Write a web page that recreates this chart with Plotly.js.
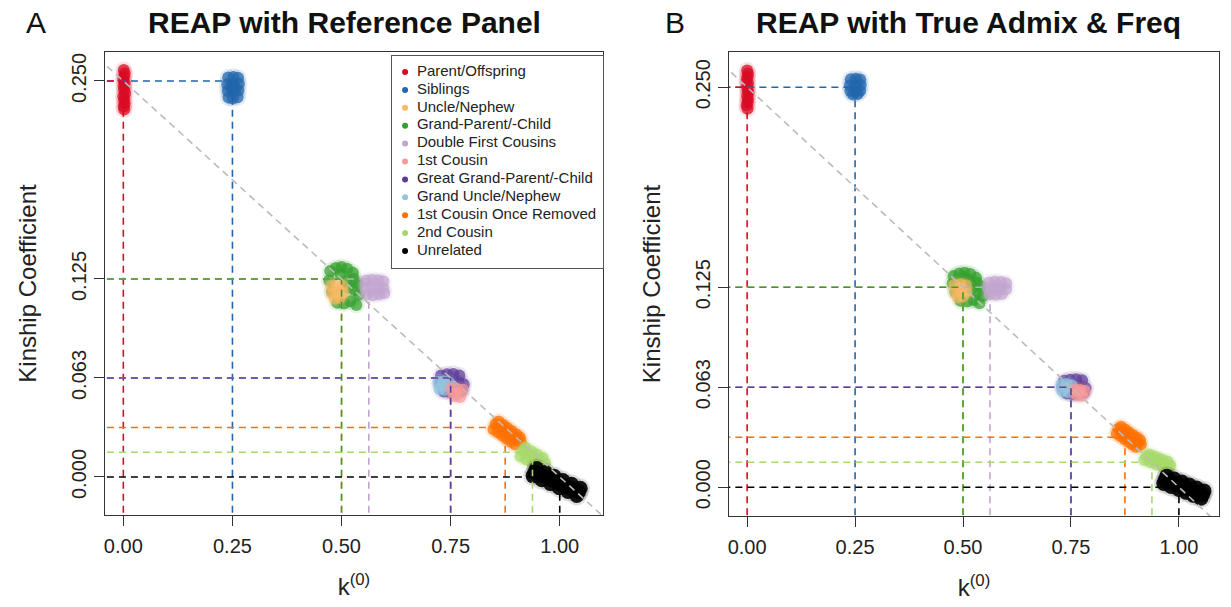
<!DOCTYPE html>
<html><head><meta charset="utf-8">
<script src="https://cdn.plot.ly/plotly-3.0.1.min.js"></script>
<style>html,body{margin:0;padding:0;background:#fff;} #chart{width:1231px;height:607px;}</style>
</head><body><div id="chart"></div>
<script>
// ---- relationship categories ----
const relNames = ["Parent/Offspring","Siblings","Uncle/Nephew","Grand-Parent/-Child","Double First Cousins","1st Cousin","Great Grand-Parent/-Child","Grand Uncle/Nephew","1st Cousin Once Removed","2nd Cousin","Unrelated"];
const relColors = ["#DA0A22","#2166AC","#FDB863","#33A02C","#C2A5CF","#F79A9A","#5E3C99","#92C5DE","#FF7000","#A6D96A","#000000"];
// expected k(0) and kinship per relationship
const expK0  = [0, 0.25, 0.5, 0.5, 0.5625, 0.75, 0.75, 0.75, 0.875, 0.9375, 1];
const expPhi = [0.25, 0.25, 0.125, 0.125, 0.125, 0.0625, 0.0625, 0.0625, 0.03125, 0.015625, 0];

// tick labels
const xTickVals = [0, 0.25, 0.5, 0.75, 1];
const xTickText = ["0.00","0.25","0.50","0.75","1.00"];
const yTickVals = [0, 0.0625, 0.125, 0.25];
const yTickText = ["0.000","0.063","0.125","0.250"];

// ---- Panel A: REAP with Reference Panel (estimated pairs) ----
const aPO_k = [0.001,0.003,0.002,0.000,0.003,0.001,0.002,0.004,0.000,0.002,0.003,0.001,0.002];
const aPO_p = [0.2570,0.2549,0.2528,0.2507,0.2486,0.2465,0.2444,0.2423,0.2402,0.2381,0.2360,0.2339,0.2320];
const aSib_k = [0.240,0.252,0.263,0.238,0.251,0.265,0.239,0.252,0.264,0.241,0.251,0.262,0.246,0.257];
const aSib_p = [0.2522,0.2526,0.2520,0.2480,0.2478,0.2482,0.2437,0.2434,0.2440,0.2395,0.2390,0.2398,0.2460,0.2455];
const aUN_k = [0.476,0.489,0.502,0.478,0.491,0.504,0.484,0.497];
const aUN_p = [0.1205,0.1212,0.1208,0.1160,0.1165,0.1162,0.1125,0.1130];
const aGP_k = [0.474,0.487,0.500,0.513,0.526,0.472,0.528,0.538,0.478,0.530,0.540,0.490,0.506,0.520,0.534,0.498,0.512,0.515];
const aGP_p = [0.1300,0.1320,0.1325,0.1315,0.1290,0.1240,0.1250,0.1220,0.1170,0.1180,0.1150,0.1100,0.1095,0.1110,0.1085,0.1280,0.1240,0.1195];
const aDFC_k = [0.556,0.570,0.584,0.596,0.554,0.568,0.582,0.596,0.558,0.572,0.586,0.598];
const aDFC_p = [0.1240,0.1245,0.1242,0.1235,0.1195,0.1195,0.1192,0.1190,0.1150,0.1148,0.1152,0.1160];
const a1C_k = [0.752,0.766,0.778,0.758,0.772,0.762];
const a1C_p = [0.0560,0.0555,0.0550,0.0510,0.0505,0.0530];
const aGG_k = [0.728,0.742,0.756,0.770,0.726,0.740,0.754,0.768,0.780,0.734,0.748,0.762,0.776];
const aGG_p = [0.0640,0.0648,0.0650,0.0640,0.0590,0.0595,0.0600,0.0598,0.0585,0.0540,0.0535,0.0538,0.0545];
const aGU_k = [0.722,0.734,0.746,0.724,0.738,0.730];
const aGU_p = [0.0600,0.0605,0.0598,0.0555,0.0550,0.0575];
const a1CR_k = [0.853,0.863,0.873,0.883,0.893,0.903,0.911,0.860,0.870,0.880,0.890,0.900,0.909,0.848,0.858,0.868,0.878,0.888,0.898];
const a1CR_p = [0.0335,0.0315,0.0295,0.0275,0.0255,0.0235,0.0218,0.0350,0.0330,0.0310,0.0290,0.0270,0.0250,0.0300,0.0282,0.0262,0.0242,0.0222,0.0205];
const a2C_k = [0.915,0.928,0.941,0.954,0.967,0.922,0.935,0.948,0.961,0.910,0.923,0.936,0.949,0.962];
const a2C_p = [0.0165,0.0145,0.0125,0.0105,0.0085,0.0185,0.0162,0.0142,0.0122,0.0130,0.0110,0.0092,0.0074,0.0060];
const aUR_k = [0.943,0.963,0.983,1.003,1.023,1.043,0.947,0.967,0.987,1.007,1.027,1.047,0.939,0.959,0.979,0.999,1.019,1.039];
const aUR_p = [0.0030,0.0005,-0.0019,-0.0045,-0.0069,-0.0094,0.0053,0.0028,0.0004,-0.0022,-0.0046,-0.0071,0.0007,-0.0018,-0.0042,-0.0068,-0.0092,-0.0117];

// ---- Panel B: REAP with True Admix & Freq ----
const bPO_k = [0.000,0.002,0.001,-0.001,0.002,0.000,0.001,0.003,0.000,0.002,0.001,-0.001,0.001];
const bPO_p = [0.2605,0.2585,0.2565,0.2545,0.2525,0.2505,0.2485,0.2465,0.2445,0.2425,0.2405,0.2385,0.2365];
const bSib_k = [0.240,0.252,0.262,0.238,0.251,0.263,0.239,0.251,0.262,0.245,0.256];
const bSib_p = [0.2550,0.2553,0.2548,0.2512,0.2510,0.2514,0.2476,0.2472,0.2478,0.2455,0.2458];
const bUN_k = [0.480,0.494,0.507,0.482,0.496,0.508,0.488,0.500];
const bUN_p = [0.1265,0.1270,0.1263,0.1222,0.1225,0.1219,0.1188,0.1190];
const bGP_k = [0.478,0.491,0.504,0.517,0.530,0.476,0.532,0.542,0.482,0.534,0.546,0.494,0.510,0.524,0.538,0.502,0.516,0.520];
const bGP_p = [0.1320,0.1335,0.1340,0.1332,0.1310,0.1275,0.1280,0.1255,0.1220,0.1220,0.1195,0.1165,0.1160,0.1170,0.1150,0.1305,0.1285,0.1240];
const bDFC_k = [0.560,0.574,0.588,0.600,0.558,0.572,0.586,0.600,0.562,0.576,0.590];
const bDFC_p = [0.1280,0.1285,0.1282,0.1275,0.1242,0.1242,0.1239,0.1237,0.1205,0.1203,0.1208];
const b1C_k = [0.760,0.772,0.782,0.764,0.776,0.768];
const b1C_p = [0.0610,0.0607,0.0603,0.0575,0.0572,0.0592];
const bGG_k = [0.734,0.748,0.762,0.776,0.730,0.744,0.758,0.772,0.784,0.740,0.754,0.768,0.780];
const bGG_p = [0.0665,0.0672,0.0675,0.0668,0.0625,0.0630,0.0633,0.0630,0.0620,0.0585,0.0580,0.0582,0.0590];
const bGU_k = [0.728,0.740,0.752,0.730,0.744,0.736];
const bGU_p = [0.0640,0.0645,0.0638,0.0600,0.0595,0.0620];
const b1CR_k = [0.860,0.869,0.878,0.887,0.896,0.905,0.912,0.866,0.875,0.884,0.893,0.902,0.910,0.856,0.865,0.874,0.883,0.892,0.901];
const b1CR_p = [0.0365,0.0348,0.0331,0.0314,0.0297,0.0280,0.0266,0.0378,0.0361,0.0344,0.0327,0.0310,0.0295,0.0335,0.0318,0.0301,0.0284,0.0267,0.0252];
const b2C_k = [0.925,0.939,0.953,0.967,0.980,0.932,0.946,0.960,0.974,0.920,0.934,0.948,0.962,0.976];
const b2C_p = [0.0195,0.0180,0.0165,0.0150,0.0135,0.0205,0.0190,0.0175,0.0160,0.0170,0.0156,0.0142,0.0128,0.0118];
const bUR_k = [0.9685,0.9857,1.003,1.020,1.0375,1.0547,0.972,0.989,1.007,1.024,1.041,1.058,0.965,0.982,1.000,1.017,1.034,1.051];
const bUR_p = [0.0046,0.0028,0.0009,-0.0009,-0.0028,-0.0046,0.0069,0.0051,0.0032,0.0014,-0.0005,-0.0023,0.0023,0.0005,-0.0014,-0.0032,-0.0051,-0.0069];

// ---- build ----
const FONT = "Liberation Sans, Arial, Helvetica, sans-serif";
// drawing order: [relationship index, k0 array, phi array]
const cloudsA = [[0,aPO_k,aPO_p],[1,aSib_k,aSib_p],[3,aGP_k,aGP_p],[2,aUN_k,aUN_p],[4,aDFC_k,aDFC_p],[6,aGG_k,aGG_p],[7,aGU_k,aGU_p],[5,a1C_k,a1C_p],[8,a1CR_k,a1CR_p],[9,a2C_k,a2C_p],[10,aUR_k,aUR_p]];
const cloudsB = [[0,bPO_k,bPO_p],[1,bSib_k,bSib_p],[3,bGP_k,bGP_p],[2,bUN_k,bUN_p],[4,bDFC_k,bDFC_p],[6,bGG_k,bGG_p],[7,bGU_k,bGU_p],[5,b1C_k,b1C_p],[8,b1CR_k,b1CR_p],[9,b2C_k,b2C_p],[10,bUR_k,bUR_p]];
const lineOrder = [1,0,4,2,3,5,7,6,8,9,10];

const traces = [];
function addPanel(clouds, xa, ya) {
  clouds.forEach(c => {
    const i = c[0];
    const core = (i === 10) ? 0.9 : (i === 2 ? 0.6 : 0.72);
    traces.push({type:'scatter', mode:'markers', x:c[1], y:c[2], xaxis:xa, yaxis:ya,
      showlegend:false, hoverinfo:'skip',
      marker:{color:relColors[i], size:(i===10?20:17), opacity:0.12, line:{width:0}}});
    traces.push({type:'scatter', mode:'markers', x:c[1], y:c[2], xaxis:xa, yaxis:ya,
      showlegend:false, hoverinfo:'skip',
      marker:{color:relColors[i], size:(i===10?15:12), opacity:core, line:{width:0}}});
  });
  lineOrder.forEach(i => {
    traces.push({type:'scatter', mode:'lines', xaxis:xa, yaxis:ya, showlegend:false, hoverinfo:'skip',
      x:[expK0[i], expK0[i], null, -1, expK0[i]],
      y:[-1, expPhi[i], null, expPhi[i], expPhi[i]],
      line:{color:relColors[i], width:1.6, dash:'7px,5px'}});
  });
  // identity line: phi = (1 - k0)/4
  traces.push({type:'scatter', mode:'lines', xaxis:xa, yaxis:ya, showlegend:false, hoverinfo:'skip',
    x:[-0.2, 1.3], y:[(1+0.2)/4, (1-1.3)/4], line:{color:'#BBBBBB', width:1.6, dash:'7px,5px'}});
}
addPanel(cloudsA, 'x', 'y');
addPanel(cloudsB, 'x2', 'y2');

// ---- legend box (own invisible axes, entries in relationship order) ----
const legIdx = relNames.map((n,i) => i);
traces.push({type:'scatter', mode:'markers', xaxis:'x3', yaxis:'y3', showlegend:false, hoverinfo:'skip',
  x:legIdx.map(() => 0.062), y:legIdx, marker:{color:relColors, size:6, line:{width:0}}});
traces.push({type:'scatter', mode:'text', xaxis:'x3', yaxis:'y3', showlegend:false, hoverinfo:'skip',
  x:legIdx.map(() => 0.118), y:legIdx, text:relNames, textposition:'middle right',
  textfont:{size:15, family:FONT, color:'#222'}, cliponaxis:false});

function axX(domain, range, anchor) {
  return {domain, range, anchor, showgrid:false, zeroline:false, showline:true, mirror:true,
    linecolor:'#333', linewidth:1, ticks:'outside', ticklen:10, tickcolor:'#333', tickwidth:1,
    tickvals:xTickVals, ticktext:xTickText, tickfont:{size:20, family:FONT, color:'#222'}, ticklabelstandoff:3,
    title:{text:'k<sup>(0)</sup>', font:{size:24, family:FONT, color:'#222'}, standoff:22}};
}
function axY(domain, range, anchor) {
  return {domain, range, anchor, showgrid:false, zeroline:false, showline:true, mirror:true,
    linecolor:'#333', linewidth:1, ticks:'outside', ticklen:10, tickcolor:'#333', tickwidth:1,
    tickvals:yTickVals, ticktext:yTickText, tickangle:-90, tickfont:{size:20, family:FONT, color:'#222'},
    title:{text:'Kinship Coefficient', font:{size:24, family:FONT, color:'#222'}, standoff:24}};
}

const layout = {
  width:1231, height:607, margin:{l:0,r:0,t:0,b:0},
  paper_bgcolor:'#fff', plot_bgcolor:'#fff', font:{family:FONT, color:'#222'},
  showlegend:false,
  xaxis: axX([0.0853,0.4898],[-0.042,1.099],'y'),
  yaxis: axY([0.1516,0.9143],[-0.024,0.2683],'x'),
  xaxis2: axX([0.5922,0.9903],[-0.042,1.093],'y2'),
  yaxis2: axY([0.1499,0.9143],[-0.018,0.272],'x2'),
  xaxis3: {domain:[392/1231, 603/1231], range:[0,1], anchor:'y3', showgrid:false, zeroline:false,
    showticklabels:false, ticks:'', showline:true, mirror:true, linecolor:'#555', linewidth:1, fixedrange:true},
  yaxis3: {domain:[1-268/607, 1-56/607], range:[10.95,-0.894], anchor:'x3', showgrid:false, zeroline:false,
    showticklabels:false, ticks:'', showline:true, mirror:true, linecolor:'#555', linewidth:1, fixedrange:true},
  shapes:[{type:'rect', xref:'paper', yref:'paper', x0:392/1231, x1:603/1231, y0:1-268/607, y1:1-56/607,
    fillcolor:'#fff', line:{width:0}, layer:'below'}],
  annotations:[
    {text:'A', x:36/1231, y:1-22/607, xref:'paper', yref:'paper', xanchor:'center', yanchor:'middle', showarrow:false, font:{size:30, family:FONT, color:'#111'}},
    {text:'<b>REAP with Reference Panel</b>', x:344/1231, y:1-22/607, xref:'paper', yref:'paper', xanchor:'center', yanchor:'middle', showarrow:false, font:{size:30, family:FONT, color:'#111'}},
    {text:'B', x:675/1231, y:1-22/607, xref:'paper', yref:'paper', xanchor:'center', yanchor:'middle', showarrow:false, font:{size:30, family:FONT, color:'#111'}},
    {text:'<b>REAP with True Admix &amp; Freq</b>', x:968/1231, y:1-22/607, xref:'paper', yref:'paper', xanchor:'center', yanchor:'middle', showarrow:false, font:{size:30, family:FONT, color:'#111'}}
  ]
};
Plotly.newPlot('chart', traces, layout, {displayModeBar:false, staticPlot:true});
</script></body></html>
